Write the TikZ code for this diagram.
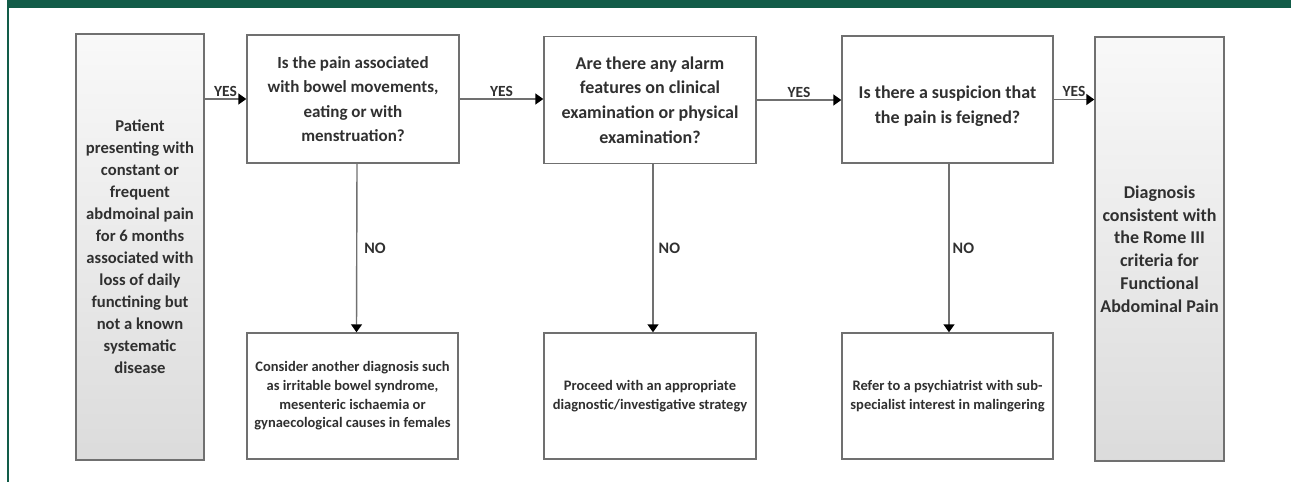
\documentclass[tikz,border=0pt]{standalone}
\usepackage{fontspec}
\setmainfont{Carlito}
\usetikzlibrary{arrows.meta}
\definecolor{bargreen}{RGB}{18,92,72}
\definecolor{boxline}{RGB}{112,112,112}
\definecolor{txt}{RGB}{48,48,48}
\tikzset{
  box/.style={draw=boxline, line width=1.4pt, rectangle, inner sep=2pt, align=center, text=txt, fill=white},
  grad/.style={box, top color=gray!5, bottom color=gray!28},
  qfont/.style={font=\fontsize{17}{24.5}\selectfont\bfseries},
  qfontb/.style={font=\fontsize{18}{24.6}\selectfont\bfseries},
  sidefont/.style={font=\fontsize{16.6}{22}\selectfont\bfseries},
  endfont/.style={font=\fontsize{18}{22.8}\selectfont\bfseries},
  resfont/.style={font=\fontsize{14.5}{18.7}\selectfont\bfseries},
  flow/.style={draw=boxline, line width=1.4pt, -{Triangle[length=8pt,width=11pt,color=black,fill=black]}},
  yeslbl/.style={font=\fontsize{15.5}{17}\selectfont\bfseries, text=txt, inner sep=2pt},
  nolbl/.style={font=\fontsize{16}{17}\selectfont\bfseries, text=txt, inner sep=2pt}
}
\begin{document}
\begin{tikzpicture}[x=1pt,y=-1pt]
\useasboundingbox (0,0) rectangle (1291,482);
% frame
\fill[bargreen] (7,0) rectangle (1291,7.5);
\fill[bargreen] (7,0) rectangle (9,482);
% nodes
\node[grad, sidefont, minimum width=128pt, minimum height=426pt] (start) at (140,247)
  {Patient\\presenting with\\constant or\\frequent\\abdmoinal pain\\for 6 months\\associated with\\loss of daily\\functining but\\not a known\\systematic\\disease};
\node[box, qfont, minimum width=212pt, minimum height=128pt] (q1) at (353,99)
  {Is the pain associated\\with bowel movements,\\eating or with\\menstruation?};
\node[box, qfontb, minimum width=212pt, minimum height=127pt] (q2) at (650,100)
  {Are there any alarm\\features on clinical\\examination or physical\\examination?};
\node[box, minimum width=211pt, minimum height=127pt,
  label={[qfontb, text=txt, align=center, yshift=-7pt]center:{Is there a suspicion that\\the pain is feigned?}}] (q3) at (947.5,99.5) {};
\node[grad, endfont, minimum width=129pt, minimum height=424pt] (end) at (1159.5,249)
  {Diagnosis\\consistent with\\the Rome III\\criteria for\\Functional\\Abdominal Pain};
\node[box, resfont, minimum width=211pt, minimum height=126pt] (r1) at (352.5,396)
  {Consider another diagnosis such\\as irritable bowel syndrome,\\mesenteric ischaemia or\\gynaecological causes in females};
\node[box, resfont, minimum width=212pt, minimum height=126pt] (r2) at (650,396)
  {Proceed with an appropriate\\diagnostic/investigative strategy};
\node[box, resfont, minimum width=211pt, minimum height=126pt] (r3) at (947.5,396)
  {Refer to a psychiatrist with sub-\\specialist interest in malingering};
% YES connectors
\draw[flow] (start.east |- q1.west) -- node[yeslbl, above] {YES} (q1.west);
\draw[flow] (q1.east) -- node[yeslbl, above] {YES} (q1.east -| q2.west);
\draw[flow] (q2.east) -- node[yeslbl, above] {YES} (q2.east -| q3.west);
\draw[flow] (q3.east) -- node[yeslbl, above] {YES} (q3.east -| end.west);
% NO connectors
\draw[flow] ([xshift=4pt]q1.south) -- node[nolbl, right, xshift=5pt] {NO} ([xshift=4pt]r1.north);
\draw[flow] ([xshift=3pt]q2.south) -- node[nolbl, right, xshift=3pt] {NO} ([xshift=3pt]r2.north);
\draw[flow] ([xshift=1.5pt]q3.south) -- node[nolbl, right, xshift=1pt] {NO} ([xshift=1.5pt]r3.north);
\end{tikzpicture}
\end{document}
